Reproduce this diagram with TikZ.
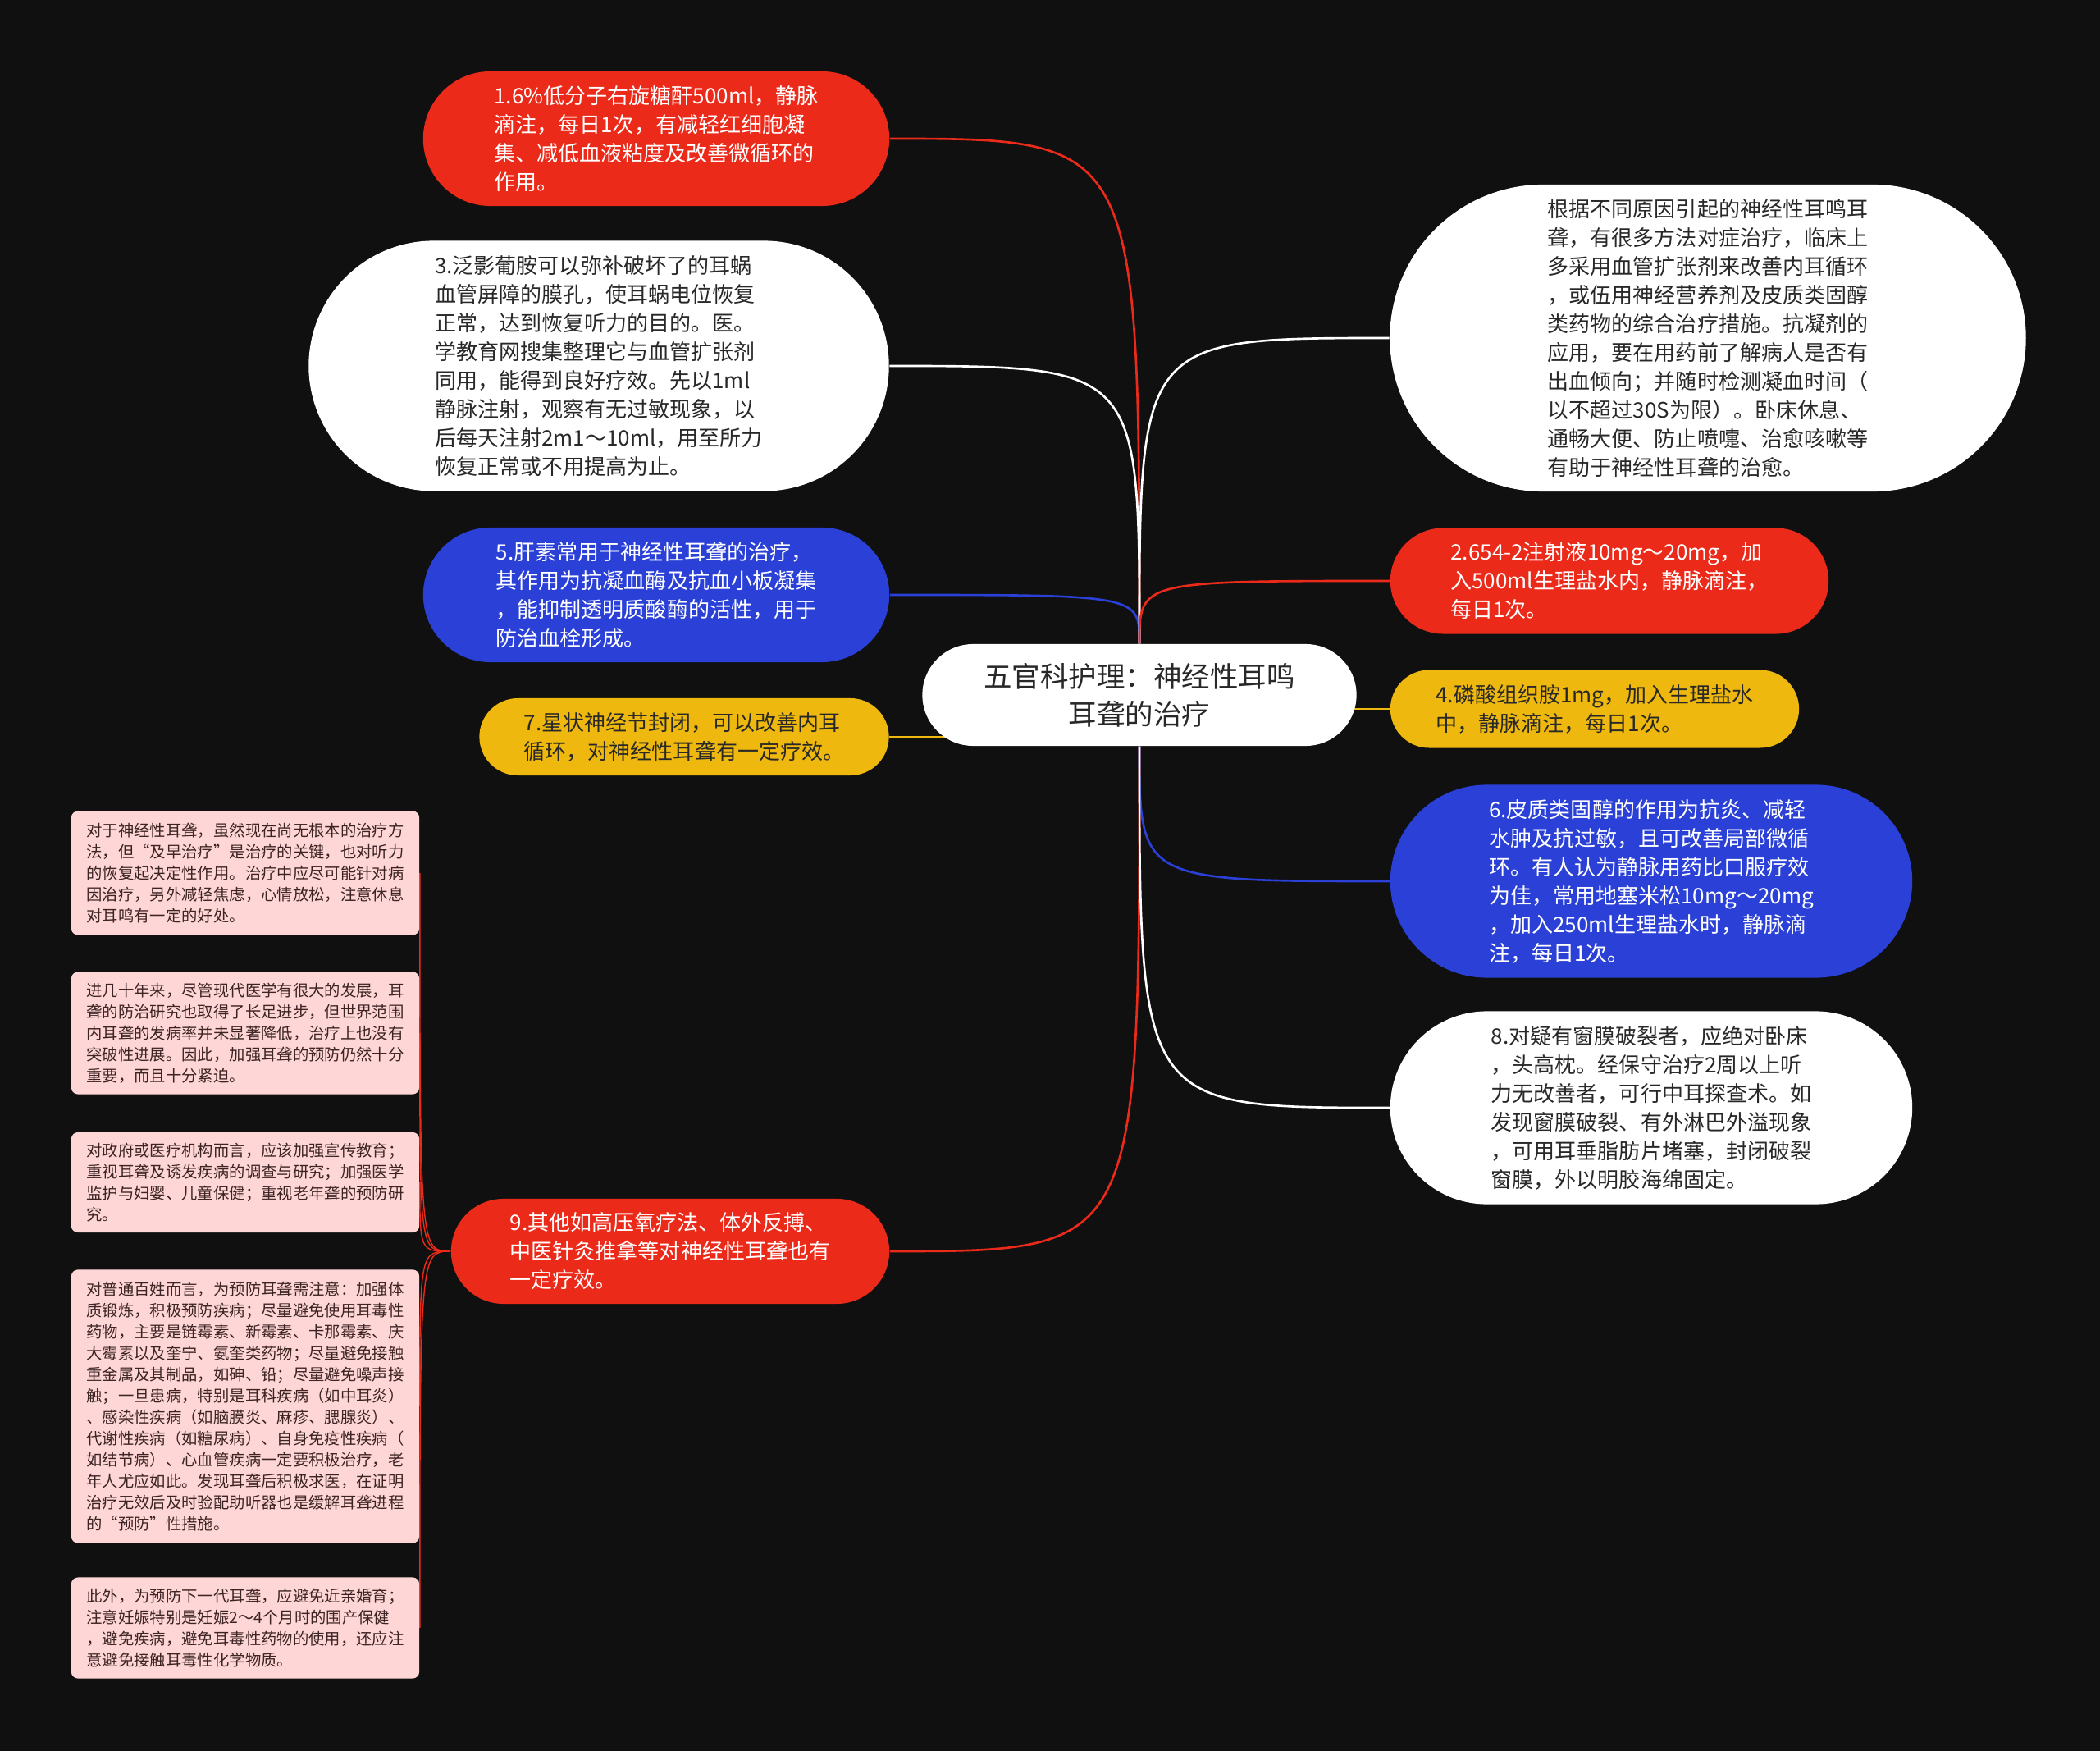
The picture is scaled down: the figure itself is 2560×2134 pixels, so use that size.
\documentclass[tikz,border=0pt]{standalone}
\usepackage{fontspec}
\setmainfont{Noto Sans CJK SC}
\usetikzlibrary{shapes.misc,backgrounds}

\definecolor{mapbg}{RGB}{16,16,16}
\definecolor{mapred}{RGB}{236,42,26}
\definecolor{mapblue}{RGB}{42,64,214}
\definecolor{mapyellow}{RGB}{238,184,14}
\definecolor{mappink}{RGB}{255,214,214}
\definecolor{maptext}{RGB}{40,40,40}
\definecolor{pinktext}{RGB}{60,36,36}

\tikzset{
  bubble/.style={rounded rectangle,inner sep=0pt,align=left,font=\fontsize{7.4}{9.96}\selectfont},
  redbubble/.style={bubble,fill=mapred,text=white},
  bluebubble/.style={bubble,fill=mapblue,text=white},
  yellowbubble/.style={bubble,fill=mapyellow,text=maptext},
  whitebubble/.style={bubble,fill=white,text=maptext},
  note/.style={rectangle,rounded corners=0.08cm,fill=mappink,text=pinktext,inner sep=0pt,align=left,minimum width=4.24cm,font=\fontsize{5.5}{7.4}\selectfont},
  link/.style={line width=0.75pt},
}

\begin{document}
\begin{tikzpicture}[x=0.01cm,y=-0.01cm]
\begin{scope}[on background layer]
\fill[mapbg] (0,0) rectangle (2560,2134);
\end{scope}

\path
(1389,847) node[whitebubble,align=center,minimum width=5.29cm,minimum height=1.24cm,font=\fontsize{9.8}{13}\selectfont](c){五官科护理：神经性耳鸣\\耳聋的治疗}
(800,169) node[redbubble,minimum width=5.68cm,minimum height=1.64cm](1){1.6\%低分子右旋糖酐500ml，静脉\\滴注，每日1次，有减轻红细胞凝\\集、减低血液粘度及改善微循环的\\作用。}
(730,446) node[whitebubble,minimum width=7.07cm,minimum height=3.05cm](3){3.泛影葡胺可以弥补破坏了的耳蜗\\血管屏障的膜孔，使耳蜗电位恢复\\正常，达到恢复听力的目的。医。\\学教育网搜集整理它与血管扩张剂\\同用，能得到良好疗效。先以1ml\\静脉注射，观察有无过敏现象，以\\后每天注射2m1～10ml，用至所力\\恢复正常或不用提高为止。}
(800,725) node[bluebubble,minimum width=5.68cm,minimum height=1.64cm](5){5.肝素常用于神经性耳聋的治疗，\\其作用为抗凝血酶及抗血小板凝集\\，能抑制透明质酸酶的活性，用于\\防治血栓形成。}
(834,898) node[yellowbubble,minimum width=4.99cm,minimum height=0.94cm](7){7.星状神经节封闭，可以改善内耳\\循环，对神经性耳聋有一定疗效。}
(817,1525) node[redbubble,minimum width=5.34cm,minimum height=1.28cm](9){9.其他如高压氧疗法、体外反搏、\\中医针灸推拿等对神经性耳聋也有\\一定疗效。}
(2082,412) node[whitebubble,minimum width=7.75cm,minimum height=3.74cm](10){根据不同原因引起的神经性耳鸣耳\\聋，有很多方法对症治疗，临床上\\多采用血管扩张剂来改善内耳循环\\，或伍用神经营养剂及皮质类固醇\\类药物的综合治疗措施。抗凝剂的\\应用，要在用药前了解病人是否有\\出血倾向；并随时检测凝血时间（\\以不超过30S为限）。卧床休息、\\通畅大便、防止喷嚏、治愈咳嗽等\\有助于神经性耳聋的治愈。}
(1962,708) node[redbubble,minimum width=5.34cm,minimum height=1.29cm](2){2.654-2注射液10mg～20mg，加\\入500ml生理盐水内，静脉滴注，\\每日1次。}
(1944,864) node[yellowbubble,minimum width=4.98cm,minimum height=0.95cm](4){4.磷酸组织胺1mg，加入生理盐水\\中，静脉滴注，每日1次。}
(2013,1074) node[bluebubble,minimum width=6.36cm,minimum height=2.35cm](6){6.皮质类固醇的作用为抗炎、减轻\\水肿及抗过敏，且可改善局部微循\\环。有人认为静脉用药比口服疗效\\为佳，常用地塞米松10mg～20mg\\，加入250ml生理盐水时，静脉滴\\注，每日1次。}
(2013,1350) node[whitebubble,minimum width=6.36cm,minimum height=2.35cm](8){8.对疑有窗膜破裂者，应绝对卧床\\，头高枕。经保守治疗2周以上听\\力无改善者，可行中耳探查术。如\\发现窗膜破裂、有外淋巴外溢现象\\，可用耳垂脂肪片堵塞，封闭破裂\\窗膜，外以明胶海绵固定。}
(299,1064) node[note,minimum height=1.51cm](11){对于神经性耳聋，虽然现在尚无根本的治疗方\\法，但“及早治疗”是治疗的关键，也对听力\\的恢复起决定性作用。治疗中应尽可能针对病\\因治疗，另外减轻焦虑，心情放松，注意休息\\对耳鸣有一定的好处。}
(299,1259) node[note,minimum height=1.49cm](12){进几十年来，尽管现代医学有很大的发展，耳\\聋的防治研究也取得了长足进步，但世界范围\\内耳聋的发病率并未显著降低，治疗上也没有\\突破性进展。因此，加强耳聋的预防仍然十分\\重要，而且十分紧迫。}
(299,1441) node[note,minimum height=1.22cm](13){对政府或医疗机构而言，应该加强宣传教育；\\重视耳聋及诱发疾病的调查与研究；加强医学\\监护与妇婴、儿童保健；重视老年聋的预防研\\究。}
(299,1714) node[note,minimum height=3.33cm](14){对普通百姓而言，为预防耳聋需注意：加强体\\质锻炼，积极预防疾病；尽量避免使用耳毒性\\药物，主要是链霉素、新霉素、卡那霉素、庆\\大霉素以及奎宁、氨奎类药物；尽量避免接触\\重金属及其制品，如砷、铅；尽量避免噪声接\\触；一旦患病，特别是耳科疾病（如中耳炎）\\、感染性疾病（如脑膜炎、麻疹、腮腺炎）、\\代谢性疾病（如糖尿病）、自身免疫性疾病（\\如结节病）、心血管疾病一定要积极治疗，老\\年人尤应如此。发现耳聋后积极求医，在证明\\治疗无效后及时验配助听器也是缓解耳聋进程\\的“预防”性措施。}
(299,1984) node[note,minimum height=1.23cm](15){此外，为预防下一代耳聋，应避免近亲婚育；\\注意妊娠特别是妊娠2～4个月时的围产保健\\，避免疾病，避免耳毒性药物的使用，还应注\\意避免接触耳毒性化学物质。};

\begin{scope}[on background layer]
\path[draw,link,color=mapred] (c.north) .. controls (c.north |- 1.east) .. (1.east);
\path[draw,link,color=white] (c.north) .. controls (c.north |- 3.east) .. (3.east);
\path[draw,link,color=mapblue] (c.north) .. controls (c.north |- 5.east) .. (5.east);
\path[draw,link,color=mapyellow] (7.east) -- (c.center |- 7.east);
\path[draw,link,color=mapred] (c.south) .. controls (c.south |- 9.east) .. (9.east);
\path[draw,link,color=white] (c.north) .. controls (c.north |- 10.west) .. (10.west);
\path[draw,link,color=mapred] (c.north) .. controls (c.north |- 2.west) .. (2.west);
\path[draw,link,color=mapyellow] (4.west) -- (c.center |- 4.west);
\path[draw,link,color=mapblue] (c.south) .. controls (c.south |- 6.west) .. (6.west);
\path[draw,link,color=white] (c.south) .. controls (c.south |- 8.west) .. (8.west);
\path[draw,thin,color=mapred] (9.west) .. controls (11.east |- 9.west) .. (11.east);
\path[draw,thin,color=mapred] (9.west) .. controls (12.east |- 9.west) .. (12.east);
\path[draw,thin,color=mapred] (9.west) .. controls (13.east |- 9.west) .. (13.east);
\path[draw,thin,color=mapred] (9.west) .. controls (14.east |- 9.west) .. (14.east);
\path[draw,thin,color=mapred] (9.west) .. controls (15.east |- 9.west) .. (15.east);
\end{scope}
\end{tikzpicture}
\end{document}
